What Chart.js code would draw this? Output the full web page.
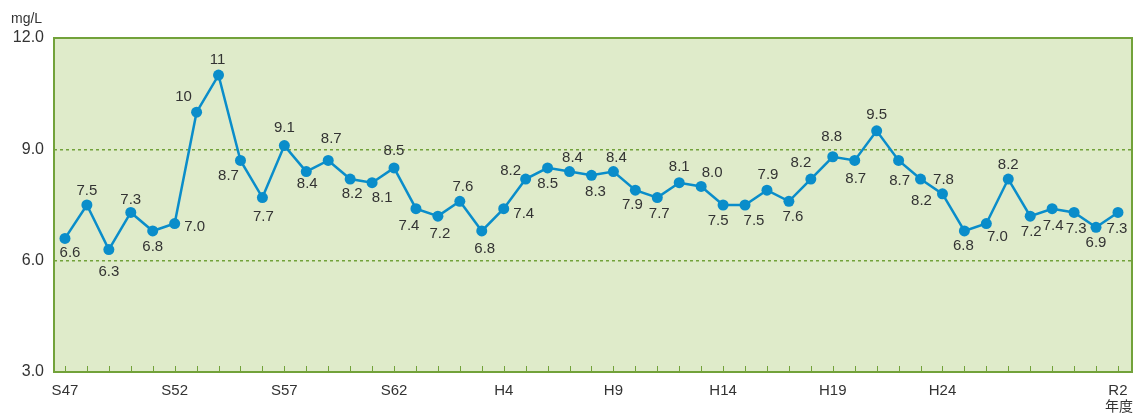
<!DOCTYPE html>
<html lang="ja">
<head>
<meta charset="utf-8">
<script src="https://cdn.jsdelivr.net/npm/chart.js@4/dist/chart.umd.min.js"></script>
<style>
  html, body { margin: 0; padding: 0; background: #fff; }
  #wrap { width: 1139px; height: 414px; position: relative; }
</style>
</head>
<body>
<div id="wrap"><canvas id="chart" width="1139" height="414"></canvas></div>
<script>
// 年度（S=昭和, H=平成, R=令和）
const years = [
    'S47', 'S48', 'S49', 'S50', 'S51', 'S52', 'S53', 'S54', 'S55', 'S56',
    'S57', 'S58', 'S59', 'S60', 'S61', 'S62', 'S63',
    'H1', 'H2', 'H3', 'H4', 'H5', 'H6', 'H7', 'H8', 'H9', 'H10',
    'H11', 'H12', 'H13', 'H14', 'H15', 'H16', 'H17', 'H18', 'H19', 'H20',
    'H21', 'H22', 'H23', 'H24', 'H25', 'H26', 'H27', 'H28', 'H29', 'H30',
    'R1', 'R2',
];

// 濃度 (mg/L)
const values = [
    6.6, 7.5, 6.3, 7.3, 6.8, 7.0, 10, 11, 8.7, 7.7,
    9.1, 8.4, 8.7, 8.2, 8.1, 8.5, 7.4,
    7.2, 7.6, 6.8, 7.4, 8.2, 8.5, 8.4, 8.3, 8.4, 7.9,
    7.7, 8.1, 8.0, 7.5, 7.5, 7.9, 7.6, 8.2, 8.8, 8.7,
    9.5, 8.7, 8.2, 7.8, 6.8, 7.0, 8.2, 7.2, 7.4, 7.3,
    6.9, 7.3,
];

// 軸ラベル
const xTickLabels = ['S47', 'S52', 'S57', 'S62', 'H4', 'H9', 'H14', 'H19', 'H24', 'R2'];
const yTickValues = [3, 6, 9, 12];
const dashedLines = [6, 9];

const BLUE = '#0a8dca';
const GREEN = '#72a23a';
const TEXT = '#333333';
const NUM_FONT = '"Liberation Sans", Arial, sans-serif';
const JP_FONT = '"Noto Sans CJK JP", sans-serif';

// 値ラベルの位置（点からのずれ dx, dy）
const labelOffsets = [
    [5, 14], [0, -14], [0, 22], [0, -13], [0, 16], [20, 3], [-13, -15], [-1, -15], [-12, 15], [1, 19],
    [0, -18], [1, 12], [3, -22], [2, 15], [10, 15], [0, -17], [-7, 17],
    [2, 18], [3, -14], [3, 18], [20, 5], [-15, -8], [0, 16], [3, -14], [4, 17], [3, -14], [-3, 15],
    [2, 16], [0, -16], [11, -14], [-5, 16], [9, 16], [1, -15], [4, 16], [-10, -16], [-1, -20], [1, 18],
    [0, -16], [1, 20], [1, 22], [1, -14], [-1, 15], [11, 13], [0, -14], [1, 16], [1, 17], [2, 16],
    [0, 16], [-1, 16],
];

/**
 * 背景・枠線・目盛・注記を描くプラグイン
 */
const framePlugin = {
    id: 'frame',
    beforeDraw(chart) {
        const { ctx, chartArea: a } = chart;
        ctx.save();
        ctx.fillStyle = '#dfebca';
        ctx.fillRect(a.left, a.top, a.right - a.left, a.bottom - a.top);
        ctx.restore();
    },
    afterDraw(chart) {
        const { ctx, chartArea: a, scales } = chart;
        ctx.save();
        // 内向きの目盛
        ctx.strokeStyle = GREEN;
        ctx.lineWidth = 1;
        years.forEach((_, i) => {
            const x = Math.round(scales.x.getPixelForValue(i)) + 0.5;
            ctx.beginPath();
            ctx.moveTo(x, a.bottom);
            ctx.lineTo(x, a.bottom - 6);
            ctx.stroke();
        });
        // 枠線
        ctx.lineWidth = 2;
        ctx.strokeRect(a.left, a.top, a.right - a.left, a.bottom - a.top);
        // 単位・年度
        ctx.fillStyle = TEXT;
        ctx.font = '14px ' + NUM_FONT;
        ctx.textAlign = 'left';
        ctx.textBaseline = 'middle';
        ctx.fillText('mg/L', 11, 19);
        ctx.font = '14px ' + JP_FONT;
        ctx.textAlign = 'center';
        ctx.fillText('年度', scales.x.getPixelForValue(years.length - 1) + 1, 406);
        ctx.restore();
    },
};

/**
 * 値ラベルを描くプラグイン
 */
const valueLabelPlugin = {
    id: 'valueLabels',
    afterDatasetsDraw(chart) {
        const { ctx } = chart;
        const meta = chart.getDatasetMeta(0);
        ctx.save();
        ctx.fillStyle = TEXT;
        ctx.font = '15px ' + NUM_FONT;
        ctx.textAlign = 'center';
        ctx.textBaseline = 'middle';
        meta.data.forEach((pt, i) => {
            const [dx, dy] = labelOffsets[i] || [0, -15];
            ctx.fillText(values[i].toPrecision(2), pt.x + dx, pt.y + dy);
        });
        ctx.restore();
    },
};

new Chart(document.getElementById('chart').getContext('2d'), {
    type: 'line',
    data: {
        datasets: [{
            data: values.map((v, i) => ({ x: i, y: v })),
            borderColor: BLUE,
            borderWidth: 2.5,
            backgroundColor: BLUE,
            pointBackgroundColor: BLUE,
            pointBorderColor: BLUE,
            pointRadius: 5.5,
            pointBorderWidth: 0,
            tension: 0,
            fill: false,
        }],
    },
    options: {
        responsive: false,
        animation: false,
        events: [],
        layout: { padding: { top: 38, right: 7, bottom: 0, left: 0 } },
        plugins: {
            legend: { display: false },
            tooltip: { enabled: false },
        },
        scales: {
            x: {
                type: 'linear',
                min: -0.5,
                max: 48.64,
                afterFit(scale) { scale.height = 42; },
                afterBuildTicks(scale) {
                    scale.ticks = years.map((_, i) => ({ value: i }));
                },
                grid: { display: false, drawTicks: false },
                border: { display: false },
                ticks: {
                    autoSkip: false,
                    maxRotation: 0,
                    padding: 10,
                    color: TEXT,
                    font: { family: NUM_FONT, size: 15 },
                    callback: (v) => (xTickLabels.includes(years[v]) ? years[v] : ''),
                },
            },
            y: {
                min: 3,
                max: 12,
                afterFit(scale) { scale.width = 54; },
                afterBuildTicks(scale) {
                    scale.ticks = yTickValues.map((v) => ({ value: v }));
                },
                grid: {
                    drawTicks: false,
                    lineWidth: 1.5,
                    color: (c) => (dashedLines.includes(c.tick && c.tick.value) ? GREEN : 'rgba(0,0,0,0)'),
                },
                border: { display: false, dash: [3, 3] },
                ticks: {
                    padding: 10,
                    color: TEXT,
                    font: { family: NUM_FONT, size: 16 },
                    callback: (v) => v.toFixed(1),
                },
            },
        },
    },
    plugins: [framePlugin, valueLabelPlugin],
});
</script>
</body>
</html>
